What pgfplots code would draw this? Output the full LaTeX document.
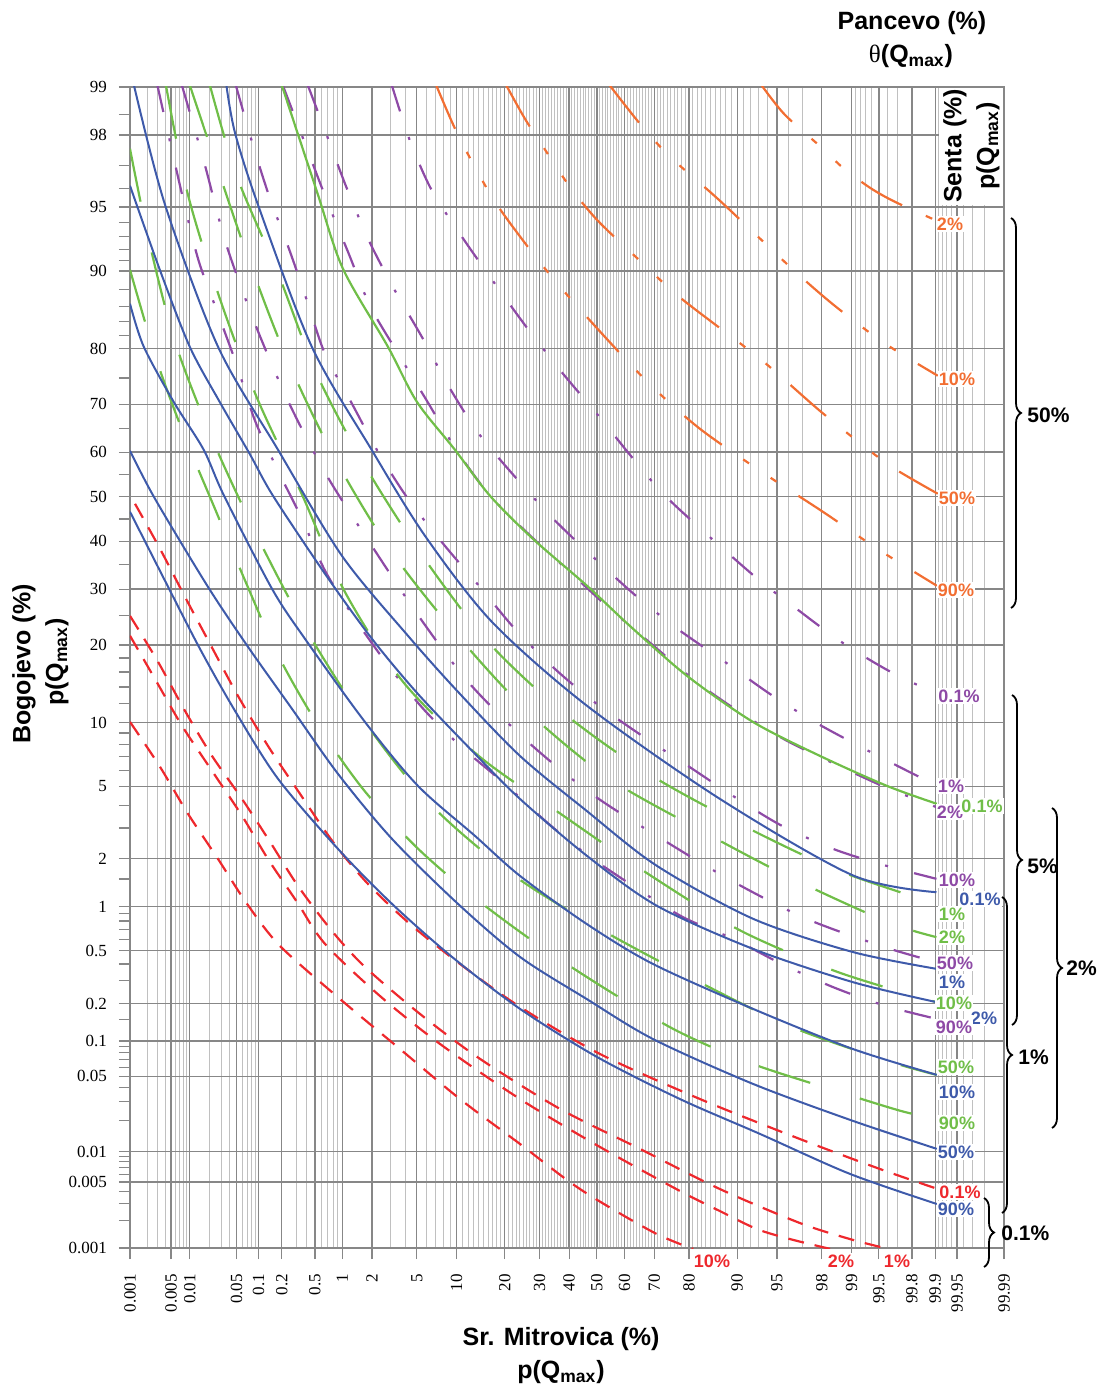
\documentclass[border=0pt]{standalone}
\usepackage{fontspec}
\setmainfont{Liberation Sans}
\newfontfamily\serif{Liberation Serif}
\usepackage{pgfplots}
\pgfplotsset{compat=1.18}
\usetikzlibrary{decorations.pathreplacing}
\definecolor{cblue}{RGB}{62,90,170}
\definecolor{cgreen}{RGB}{112,190,72}
\definecolor{cpurple}{RGB}{142,74,166}
\definecolor{corange}{RGB}{242,110,50}
\definecolor{cred}{RGB}{238,40,45}
\definecolor{gmaj}{RGB}{135,135,135}
\definecolor{gmin}{RGB}{192,192,192}
% All values are standard-normal quantiles (probit) of the percentages shown on the axes
\begin{document}
\begin{tikzpicture}
\path[use as bounding box] (-65pt,-70.5pt) rectangle (487.5pt,624pt);
\begin{axis}[
 at={(0pt,0pt)}, anchor=south west,
 scale only axis, width=437pt, height=580.5pt,
 xmin=-4.2649, xmax=3.7190, ymin=-4.2649, ymax=2.3263,
 axis line style={gmaj, line width=0.7pt},
 xtick={-4.2649,-3.8906,-3.7190,-3.2905,-3.0902,-2.8782,-2.5758,-2.3263,-2.0537,-1.6449,-1.2816,-0.8416,-0.5244,-0.2533,0,0.2533,0.5244,0.8416,1.2816,1.6449,2.0537,2.3263,2.5758,2.8782,3.0902,3.2905,3.7190},
 xticklabels={0.001,0.005,0.01,0.05,0.1,0.2,0.5,1,2,5,10,20,30,40,50,60,70,80,90,95,98,99,99.5,99.8,99.9,99.95,99.99},
 ytick={-4.2649,-3.8906,-3.7190,-3.2905,-3.0902,-2.8782,-2.5758,-2.3263,-2.0537,-1.6449,-1.2816,-0.8416,-0.5244,-0.2533,0,0.2533,0.5244,0.8416,1.2816,1.6449,2.0537,2.3263},
 yticklabels={0.001,0.005,0.01,0.05,0.1,0.2,0.5,1,2,5,10,20,30,40,50,60,70,80,90,95,98,99},
 minor xtick={-4.1075,-4.0128,-3.9444,-3.8461,-3.8082,-3.7750,-3.7455,-3.5401,-3.4316,-3.3528,-3.2389,-3.1947,-3.1559,-3.1214,-2.7478,-2.6521,-2.5121,-2.4573,-2.4089,-2.3656,-1.8808,-1.7507,-1.5548,-1.4758,-1.4051,-1.3408,
 -1.2265,-1.1750,-1.1264,-1.0803,-1.0364,-0.9945,-0.9542,-0.9154,-0.8779,
 -0.8064,-0.7722,-0.7388,-0.7063,-0.6745,-0.6433,-0.6128,-0.5828,-0.5534,
 -0.4959,-0.4677,-0.4399,-0.4125,-0.3853,-0.3585,-0.3319,-0.3055,-0.2793,
 -0.2275,-0.2019,-0.1764,-0.1510,-0.1257,-0.1004,-0.0753,-0.0502,-0.0251,
 0.0251,0.0502,0.0753,0.1004,0.1257,0.1510,0.1764,0.2019,0.2275,
 0.2793,0.3055,0.3319,0.3585,0.3853,0.4125,0.4399,0.4677,0.4959,
 0.5534,0.5828,0.6128,0.6433,0.6745,0.7063,0.7388,0.7722,0.8064,
 0.8779,0.9154,0.9542,0.9945,1.0364,1.0803,1.1264,1.1750,1.2265,
 1.3408,1.4051,1.4758,1.5548,1.7507,1.8808,2.3656,2.4089,2.4573,2.5121,2.6521,2.7478,3.1214,3.1559,3.1947,3.2389,3.3528,3.4316,3.5401},
 minor ytick={-4.1075,-4.0128,-3.9444,-3.8461,-3.8082,-3.7750,-3.7455,-3.5401,-3.4316,-3.3528,-3.2389,-3.1947,-3.1559,-3.1214,-2.9677,-2.7478,-2.6521,-2.5121,-2.4573,-2.4089,-2.3656,-2.1701,-1.8808,-1.7507,-1.5548,-1.4758,-1.4051,-1.3408,-1.1750,-1.0803,-0.9945,-0.9154,-0.6745,-0.3853,-0.1257,0.1257,0.3853,0.6745,0.9154,0.9945,1.0803,1.1750,1.3408,1.4051,1.4758,1.5548,1.7507,1.8808,2.1701},
 xmajorgrids, xminorgrids, ymajorgrids,
 major grid style={gmaj, line width=0.65pt},
 minor grid style={gmin, line width=0.5pt},
 tick align=outside, xtick pos=left, ytick pos=left,
 major tick length=5.5pt, minor tick length=5.5pt,
 every tick/.style={gmaj, line width=0.6pt},
 minor x tick style={draw=none},
 tick label style={font=\serif\fontsize{8.5}{10}\selectfont, text=black},
 xticklabel style={rotate=90, anchor=east},
 xticklabel shift=4pt, yticklabel shift=2.5pt,
 every axis plot/.append style={no marks, smooth, line width=1.1pt},
]
% ---------- Pancevo (orange) ----------
\addplot[corange, dash pattern=on 23.5pt off 13pt on 3.5pt off 13pt on 3.5pt off 13pt] coordinates {(-1.466,2.334) (-1.267,2.052) (-0.977,1.721) (-0.733,1.503) (-0.384,1.227) (0.089,0.897) (0.509,0.623) (0.941,0.386) (1.489,0.148) (2.064,-0.085) (2.493,-0.267) (2.749,-0.369) (3.105,-0.505)};
\addplot[corange, dash pattern=on 23.5pt off 13pt on 3.5pt off 13pt on 3.5pt off 13pt] coordinates {(-0.826,2.334) (-0.658,2.147) (-0.490,1.986) (-0.247,1.760) (0.009,1.567) (0.393,1.340) (0.774,1.124) (1.489,0.784) (2.037,0.488) (2.493,0.261) (2.749,0.148) (3.114,0.017)};
\addplot[corange, dash pattern=on 23.5pt off 13pt on 3.5pt off 13pt on 3.5pt off 13pt] coordinates {(0.119,2.334) (0.393,2.118) (0.667,1.931) (1.123,1.681) (1.763,1.306) (2.128,1.107) (2.493,0.931) (2.749,0.823) (3.114,0.687)};
\addplot[corange, dash pattern=on 23.5pt off 13pt on 3.5pt off 13pt on 3.5pt off 13pt] coordinates {(1.507,2.334) (1.717,2.169) (2.064,1.976) (2.247,1.868) (2.493,1.755) (2.721,1.675) (3.105,1.567)};
% ---------- purple ----------
\addplot[cpurple, dash pattern=on 13.5pt off 13.5pt on 1.5pt off 13.5pt] coordinates {(-1.872,2.334) (-1.708,2.022) (-1.507,1.738) (-1.233,1.476) (-0.932,1.210) (-0.639,0.960) (-0.322,0.708) (0.012,0.462) (0.332,0.216) (0.667,-0.021) (1.413,-0.437) (1.824,-0.636) (2.235,-0.825) (2.660,-0.986) (3.102,-1.119)};
\addplot[cpurple, dash pattern=on 13.5pt off 13.5pt on 1.5pt off 13.5pt] coordinates {(-2.639,2.334) (-2.466,2.050) (-2.283,1.749) (-2.082,1.454) (-1.854,1.181) (-1.589,0.897) (-1.352,0.625) (-1.078,0.358) (-0.749,0.114) (-0.405,-0.121) (-0.034,-0.342) (0.347,-0.557) (0.728,-0.746) (1.153,-0.930) (1.580,-1.119) (1.991,-1.279) (2.432,-1.427) (2.889,-1.573) (3.102,-1.635)};
\addplot[cpurple, dash pattern=on 13.5pt off 13.5pt on 1.5pt off 13.5pt] coordinates {(-2.868,2.334) (-2.648,1.976) (-2.466,1.681) (-2.274,1.391) (-2.073,1.085) (-1.826,0.823) (-1.553,0.545) (-1.281,0.263) (-0.977,0.007) (-0.627,-0.210) (-0.247,-0.428) (0.119,-0.636) (0.514,-0.844) (0.911,-1.052) (1.306,-1.223) (1.732,-1.384) (2.204,-1.526) (2.646,-1.652) (3.102,-1.762)};
\addplot[cpurple, dash pattern=on 13.5pt off 13.5pt on 1.5pt off 13.5pt] coordinates {(-3.297,2.334) (-3.151,2.016) (-2.995,1.709) (-2.813,1.408) (-2.648,1.113) (-2.484,0.812) (-2.237,0.528) (-2.000,0.256) (-1.726,-0.011) (-1.404,-0.267) (-1.075,-0.507) (-0.749,-0.750) (-0.384,-0.977) (-0.003,-1.175) (0.408,-1.355) (0.849,-1.535) (1.260,-1.705) (1.687,-1.867) (2.158,-1.999) (2.615,-2.090) (3.102,-2.169)};
\addplot[cpurple, dash pattern=on 13.5pt off 13.5pt on 1.5pt off 13.5pt] coordinates {(-3.790,2.334) (-3.589,1.902) (-3.388,1.437) (-3.123,0.982) (-2.822,0.545) (-2.466,0.119) (-2.058,-0.277) (-1.632,-0.674) (-1.175,-1.052) (-0.627,-1.393) (-0.048,-1.687) (0.591,-1.942) (1.245,-2.185) (1.915,-2.396) (2.630,-2.557) (3.102,-2.642)};
\addplot[cpurple, dash pattern=on 13.5pt off 13.5pt on 1.5pt off 13.5pt] coordinates {(-4.014,2.334) (-3.881,1.965) (-3.763,1.647) (-3.635,1.334) (-3.461,1.039) (-3.288,0.744) (-3.123,0.432) (-2.913,0.148) (-2.694,-0.125) (-2.484,-0.419) (-2.210,-0.693) (-1.906,-0.958) (-1.586,-1.204) (-1.236,-1.421) (-0.840,-1.630) (-0.459,-1.847) (-0.079,-2.037) (0.347,-2.216) (0.788,-2.387) (1.245,-2.510) (1.687,-2.652) (2.158,-2.784) (2.630,-2.889) (3.102,-2.964)};
% ---------- Senta (green) ----------
\addplot[cgreen, dash pattern=on 27pt off 26pt] coordinates {(-3.534,2.334) (-3.290,1.821) (-2.911,1.266) (-2.560,0.698) (-2.112,0.169) (-1.586,-0.342) (-0.993,-0.825) (-0.283,-1.238) (0.500,-1.583) (1.336,-1.867) (2.204,-2.122) (3.102,-2.311)};
\addplot[cgreen, dash pattern=on 27pt off 26pt] coordinates {(-3.717,2.334) (-3.495,1.919) (-3.178,1.342) (-2.825,0.774) (-2.408,0.235) (-1.906,-0.286) (-1.312,-0.759) (-0.658,-1.204) (0.094,-1.592) (0.934,-1.889) (1.778,-2.165) (2.660,-2.415) (3.102,-2.500)};
\addplot[cgreen, dash pattern=on 27pt off 26pt] coordinates {(-3.936,2.334) (-3.738,1.721) (-3.449,1.134) (-3.108,0.566) (-2.697,0.017) (-2.301,-0.541) (-1.769,-1.052) (-1.084,-1.469) (-0.308,-1.810) (0.490,-2.150) (1.312,-2.463) (2.204,-2.699) (3.102,-2.869)};
\addplot[cgreen, dash pattern=on 27pt off 26pt] coordinates {(-4.265,1.976) (-4.100,1.476) (-3.854,0.880) (-3.507,0.318) (-3.099,-0.229) (-2.642,-0.768) (-2.119,-1.279) (-1.525,-1.743) (-0.779,-2.141) (0.027,-2.453) (0.879,-2.737) (1.747,-3.002) (2.646,-3.201) (3.102,-3.282)};
\addplot[cgreen, dash pattern=on 27pt off 26pt] coordinates {(-4.265,1.289) (-4.021,0.774) (-3.769,0.348) (-3.489,-0.068) (-3.208,-0.484) (-2.911,-0.901) (-2.545,-1.299) (-2.125,-1.668) (-1.632,-1.999) (-1.084,-2.292) (-0.505,-2.557) (0.103,-2.803) (0.728,-3.031) (1.397,-3.214) (2.128,-3.362) (2.767,-3.485) (3.102,-3.532)};
\addplot[cgreen] coordinates {(-2.877,2.334) (-2.557,1.732) (-2.320,1.295) (-1.909,0.852) (-1.644,0.539) (-1.297,0.267) (-0.977,0.006) (-0.584,-0.239) (-0.091,-0.505) (0.301,-0.733) (0.822,-1.016) (1.425,-1.278) (2.037,-1.471) (2.648,-1.641) (3.105,-1.743)};
% ---------- Bogojevo (red) ----------
\addplot[cred, dash pattern=on 8pt off 5.5pt] coordinates {(-4.219,-0.040) (-3.991,-0.295) (-3.763,-0.568) (-3.534,-0.835) (-3.279,-1.130) (-3.005,-1.414) (-2.731,-1.669) (-2.411,-1.959) (-2.091,-2.198) (-1.708,-2.425) (-1.251,-2.652) (-0.703,-2.896) (0.027,-3.163) (0.941,-3.419) (1.854,-3.646) (2.584,-3.816) (3.114,-3.930)};
\addplot[cred, dash pattern=on 8pt off 5.5pt] coordinates {(-4.265,-0.676) (-4.009,-0.937) (-3.763,-1.215) (-3.516,-1.471) (-3.242,-1.715) (-2.986,-1.959) (-2.731,-2.209) (-2.420,-2.465) (-2.119,-2.669) (-1.616,-2.936) (-1.068,-3.191) (-0.338,-3.475) (0.393,-3.702) (1.123,-3.930) (1.854,-4.123) (2.311,-4.214) (2.66,-4.27)};
\addplot[cred, dash pattern=on 8pt off 5.5pt] coordinates {(-4.265,-0.789) (-4.037,-1.034) (-3.790,-1.300) (-3.516,-1.556) (-3.242,-1.811) (-3.005,-2.056) (-2.740,-2.300) (-2.484,-2.538) (-1.982,-2.834) (-1.434,-3.106) (-0.703,-3.419) (0.027,-3.691) (0.758,-3.941) (1.123,-4.055) (1.461,-4.157) (1.763,-4.214) (2.13,-4.27)};
\addplot[cred, dash pattern=on 8pt off 5.5pt] coordinates {(-4.265,-1.278) (-3.991,-1.533) (-3.735,-1.800) (-3.461,-2.056) (-3.196,-2.311) (-2.895,-2.550) (-2.347,-2.851) (-1.799,-3.135) (-1.251,-3.419) (-0.703,-3.674) (-0.155,-3.930) (0.511,-4.174) (0.88,-4.27)};
% ---------- Sr. Mitrovica (blue) ----------
\addplot[cblue, line width=1pt] coordinates {(-3.384,2.334) (-3.306,2.067) (-3.096,1.658) (-2.605,0.853) (-2.058,0.267) (-1.571,-0.221) (-0.959,-0.710) (-0.094,-1.185) (1.123,-1.715) (2.341,-2.150) (3.102,-2.245)};
\addplot[cblue, line width=1pt] coordinates {(-4.228,2.334) (-3.945,1.658) (-3.461,0.852) (-2.913,0.267) (-2.329,-0.335) (-1.726,-0.789) (-1.269,-1.107) (-0.703,-1.471) (-0.094,-1.783) (0.545,-2.094) (1.427,-2.396) (2.341,-2.585) (3.102,-2.680)};
\addplot[cblue, line width=1pt] coordinates {(-4.265,1.766) (-3.994,1.291) (-3.720,0.853) (-3.446,0.539) (-3.172,0.244) (-2.959,0.006) (-2.484,-0.437) (-2.055,-0.806) (-1.635,-1.119) (-1.114,-1.459) (-0.703,-1.715) (-0.094,-2.037) (0.545,-2.321) (1.427,-2.567) (2.341,-2.756) (3.102,-2.869)};
\addplot[cblue, line width=1pt] coordinates {(-4.265,1.096) (-4.140,0.853) (-3.866,0.539) (-3.592,0.267) (-3.406,0.006) (-2.968,-0.522) (-2.667,-0.806) (-2.119,-1.278) (-1.635,-1.641) (-1.114,-1.925) (-0.703,-2.152) (-0.094,-2.425) (0.511,-2.652) (1.425,-2.907) (2.338,-3.135) (3.105,-3.282)};
\addplot[cblue, line width=1pt] coordinates {(-4.265,0.261) (-4.037,-0.011) (-3.553,-0.511) (-3.187,-0.852) (-2.785,-1.204) (-2.365,-1.573) (-1.872,-1.942) (-1.269,-2.311) (-0.703,-2.612) (-0.094,-2.851) (0.511,-3.078) (1.425,-3.333) (2.338,-3.543) (3.105,-3.702)};
\addplot[cblue, line width=1pt] coordinates {(-4.265,-0.085) (-3.945,-0.477) (-3.626,-0.863) (-3.306,-1.215) (-2.913,-1.601) (-2.365,-1.999) (-1.872,-2.311) (-1.324,-2.612) (-0.703,-2.907) (0,-3.180) (0.758,-3.419) (1.489,-3.617) (2.311,-3.844) (3.105,-4.015)};
\end{axis}
% ---------- annotations (pixel-like frame: 1 unit = 0.5pt, y downward) ----------
\begin{scope}[x=0.5pt,y=-0.5pt,shift={(-65pt,624pt)}]
\fill[white] (938.8,87.6) rectangle (1003.2,205);
\tikzset{lab/.style={font=\bfseries\fontsize{9}{10}\selectfont, fill=white, inner sep=0.6pt}}
% orange
\node[lab, text=corange] at (950,224) {2\%};
\node[lab, text=corange] at (957,379) {10\%};
\node[lab, text=corange] at (957,498) {50\%};
\node[lab, text=corange] at (956,590) {90\%};
% purple / green / blue / red
\node[lab, text=cpurple] at (959,696) {0.1\%};
\node[lab, text=cpurple] at (951,786) {1\%};
\node[lab, text=cpurple] at (950,812) {2\%};
\node[lab, text=cgreen] at (982,806) {0.1\%};
\node[lab, text=cpurple] at (957,880) {10\%};
\node[lab, text=cblue] at (980,899) {0.1\%};
\node[lab, text=cgreen] at (952,914) {1\%};
\node[lab, text=cgreen] at (952,937) {2\%};
\node[lab, text=cpurple] at (955,963) {50\%};
\node[lab, text=cblue] at (952,982) {1\%};
\node[lab, text=cgreen] at (954,1003) {10\%};
\node[lab, text=cblue] at (984,1018) {2\%};
\node[lab, text=cpurple] at (954,1027) {90\%};
\node[lab, text=cgreen] at (956,1067) {50\%};
\node[lab, text=cblue] at (957,1092) {10\%};
\node[lab, text=cgreen] at (957,1123) {90\%};
\node[lab, text=cblue] at (956,1152) {50\%};
\node[lab, text=cred] at (960,1192) {0.1\%};
\node[lab, text=cblue] at (956,1209) {90\%};
\node[lab, text=cred] at (712,1261) {10\%};
\node[lab, text=cred] at (841,1261) {2\%};
\node[lab, text=cred] at (897,1261) {1\%};
% braces
\tikzset{br/.style={draw=black, line width=0.9pt, decorate, decoration={brace, amplitude=5pt}}}
\tikzset{bl/.style={font=\bfseries\fontsize{10.5}{12}\selectfont, anchor=west, inner sep=0pt}}
\draw[br] (1011,218) -- (1011,608);
\node[bl] at (1027,415) {50\%};
\draw[br] (1012,695) -- (1012,1025);
\node[bl] at (1027,866) {5\%};
\draw[br] (1052,808) -- (1052,1128);
\node[bl] at (1066,968) {2\%};
\draw[br] (1002,897) -- (1002,1213);
\node[bl] at (1018,1057) {1\%};
\draw[br] (984,1198) -- (984,1267);
\node[bl] at (1001,1233) {0.1\%};
% axis titles
\tikzset{ttl/.style={font=\bfseries\fontsize{12.5}{14}\selectfont, inner sep=0pt}}
\node[ttl] at (912,23) {Pancevo (\%)};
\node[ttl] at (911,56) {{\serif\mdseries θ}(Q\textsubscript{max})};
\node[ttl] at (561,1339) {Sr. Mitrovica (\%)};
\node[ttl] at (561,1372) {p(Q\textsubscript{max})};
\node[ttl, rotate=90] at (24,664) {Bogojevo (\%)};
\node[ttl, rotate=90] at (57,662) {p(Q\textsubscript{max})};
\node[ttl, rotate=90] at (955,146) {Senta (\%)};
\node[ttl, rotate=90] at (988,146) {p(Q\textsubscript{max})};
\end{scope}
\end{tikzpicture}
\end{document}
